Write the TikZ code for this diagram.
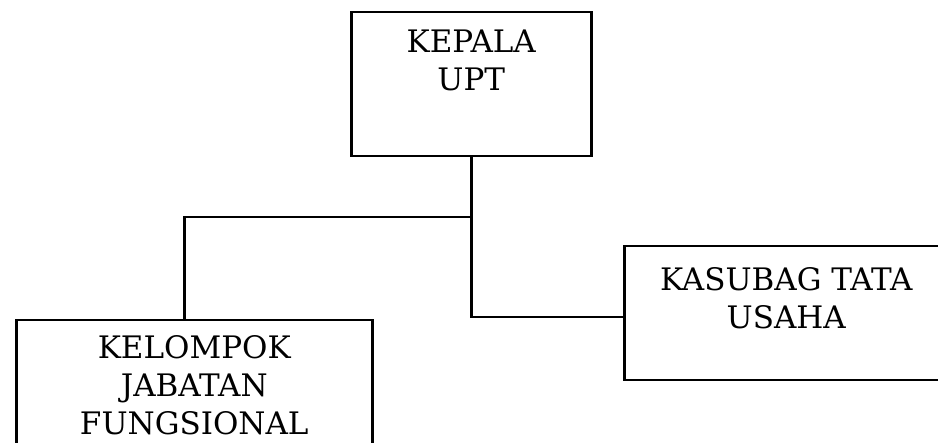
\documentclass[tikz,border=0pt]{standalone}
\usepackage{fontspec}
\setmainfont{DejaVu Serif}
\usetikzlibrary{positioning}
\tikzset{
  org/box/.style={draw=black, line width=2.5pt, rectangle, align=center,
    inner sep=0pt, anchor=north west, font=\fontsize{31}{38}\selectfont},
  org/line/.style={draw=black, line width=2.5pt},
}
\begin{document}
\begin{tikzpicture}[x=1pt,y=-1pt]
\useasboundingbox (0,0) rectangle (938,443);
\node[org/box, minimum width=240pt, text height=78pt, text depth=66pt] (kepala) at (350,11)
  {KEPALA\\UPT};
\node[org/box, minimum width=356pt, text height=114pt, text depth=60pt] (kelompok) at (15,319)
  {KELOMPOK\\JABATAN\\FUNGSIONAL};
\node[org/box, minimum width=324pt, text height=82pt, text depth=52pt] (kasubag) at (623,245)
  {KASUBAG TATA\\USAHA};

\coordinate (fork) at (kepala.south |- 0,217);
\draw[org/line] (kepala.south) |- ([yshift=-4pt]kasubag.west);
\draw[org/line] (fork) -| ([xshift=-10pt]kelompok.north);
\end{tikzpicture}
\end{document}
